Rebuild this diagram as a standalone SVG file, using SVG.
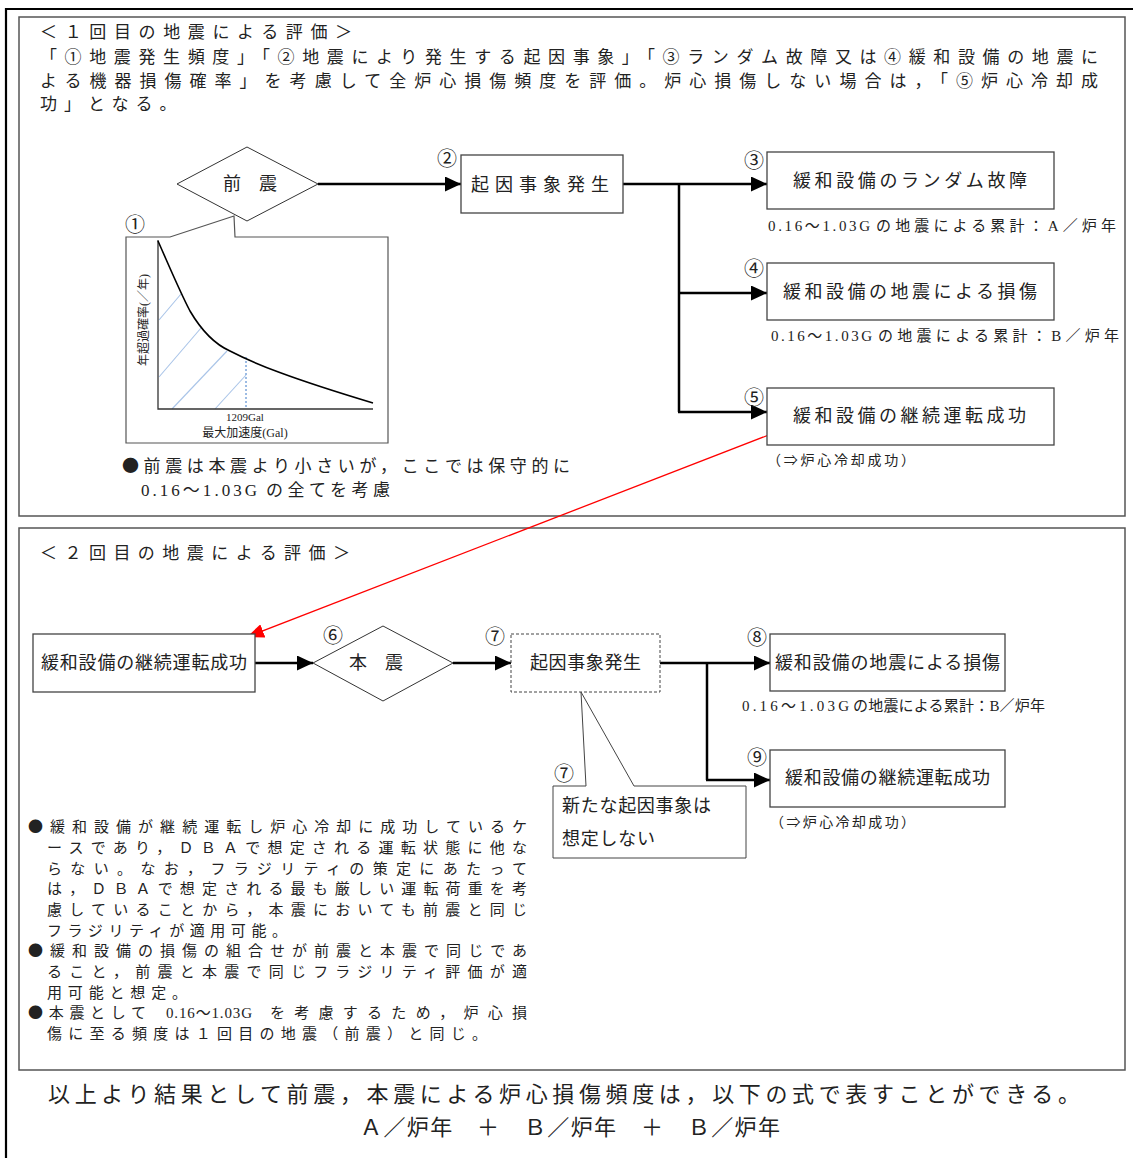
<svg xmlns="http://www.w3.org/2000/svg" width="1133" height="1158" viewBox="0 0 1133 1158">
<defs>
<style>
.t{font-family:"Liberation Serif","Noto Sans CJK JP",serif;fill:#222}
.j{font-family:"Noto Sans CJK JP",sans-serif}
.s17{font-size:17px}
.s18{font-size:18px}
.s15{font-size:15px}
.s14{font-size:14px}
.num{font-size:20px;font-family:"Noto Sans CJK JP",sans-serif;fill:#222}
.box{fill:#fff;stroke:#444;stroke-width:1.3}
.panel{fill:none;stroke:#555;stroke-width:1.5}
.conn{fill:none;stroke:#000;stroke-width:2.5}
.thin{fill:#fff;stroke:#333;stroke-width:1}
</style>
<marker id="ah" markerUnits="userSpaceOnUse" markerWidth="17" markerHeight="15" refX="16" refY="7.5" orient="auto"><path d="M0,0 L16,7.5 L0,15 z" fill="#000"/></marker>
<marker id="rah" markerUnits="userSpaceOnUse" markerWidth="18" markerHeight="14" refX="17" refY="7" orient="auto"><path d="M0,0 L17,7 L0,14 z" fill="#f00"/></marker>
</defs>
<rect width="1133" height="1158" fill="#fff"/>
<path d="M6,1160 V9 H1140" fill="none" stroke="#000" stroke-width="2.2"/>
<rect class="panel" x="19" y="17" width="1106" height="499"/>
<rect class="panel" x="19" y="528" width="1106" height="542"/>

<g id="panel1-text">
<text class="t s17" x="40" y="38" textLength="312" lengthAdjust="spacing">＜１回目の地震による評価＞</text>
<text class="t s17" x="40" y="63" textLength="1058" lengthAdjust="spacing">「<tspan class="j">①</tspan>地震発生頻度」「<tspan class="j">②</tspan>地震により発生する起因事象」「<tspan class="j">③</tspan>ランダム故障又は<tspan class="j">④</tspan>緩和設備の地震に</text>
<text class="t s17" x="40" y="87" textLength="1058" lengthAdjust="spacing">よる機器損傷確率」を考慮して全炉心損傷頻度を評価。炉心損傷しない場合は，「<tspan class="j">⑤</tspan>炉心冷却成</text>
<text class="t s17" x="40" y="110" letter-spacing="7">功」となる。</text>
</g>

<g id="connectors">
<line class="conn" x1="318" y1="184" x2="461" y2="184" marker-end="url(#ah)"/>
<polyline class="conn" points="623,184 767,184" marker-end="url(#ah)"/>
<line class="conn" x1="679" y1="184" x2="679" y2="412"/>
<line class="conn" x1="679" y1="293" x2="767" y2="293" marker-end="url(#ah)"/>
<line class="conn" x1="678" y1="412" x2="767" y2="412" marker-end="url(#ah)"/>
<line x1="779" y1="431" x2="247" y2="637" stroke="#f00" stroke-width="1.3" marker-end="url(#rah)"/>
<line class="conn" x1="255" y1="663" x2="313" y2="663" marker-end="url(#ah)"/>
<line class="conn" x1="453" y1="663" x2="511" y2="663" marker-end="url(#ah)"/>
<line class="conn" x1="660" y1="663" x2="770" y2="663" marker-end="url(#ah)"/>
<line class="conn" x1="707" y1="663" x2="707" y2="780"/>
<line class="conn" x1="706" y1="780" x2="770" y2="780" marker-end="url(#ah)"/>
</g>

<g id="n1-foreshock">
<polygon class="thin" points="177,184 247,147 318,184 247,221"/>
<text class="t s18" x="250" y="190" text-anchor="middle">前　震</text>
</g>
<g id="n1-graph">
<polygon fill="#fff" stroke="#555" stroke-width="1.2" points="126,237 170,237 234,216 235,237 388,237 388,443 126,443"/>
<text class="num" x="125" y="232">①</text>
<g stroke="#a9c4e8" stroke-width="1.1">
<line x1="159" y1="320" x2="181" y2="294"/>
<line x1="159" y1="377" x2="201" y2="328"/>
<line x1="172" y1="409" x2="227" y2="351"/>
<line x1="215" y1="409" x2="246" y2="375"/>
</g>
<line x1="246" y1="357" x2="246" y2="409" stroke="#3a78c8" stroke-width="1" stroke-dasharray="2,2"/>
<path d="M158,240 V409 H373" fill="none" stroke="#333" stroke-width="1.3"/>
<path d="M158,241 C170,268 180,292 190,311 C200,328 212,343 230,351 C255,364 290,378 373,403" fill="none" stroke="#000" stroke-width="1.6"/>
<text class="t" font-size="11" x="245" y="421" text-anchor="middle">1209Gal</text>
<text class="t" font-size="12" x="245" y="437" text-anchor="middle">最大加速度(Gal)</text>
<text class="t" font-size="12" transform="translate(148,320) rotate(-90)" text-anchor="middle">年超過確率(／年)</text>
<text class="t s17" x="122" y="472" textLength="448" lengthAdjust="spacing"><tspan class="j">●</tspan>前震は本震より小さいが，ここでは保守的に</text>
<text class="t s17" x="141" y="496" textLength="116" lengthAdjust="spacing">0.16～1.03G</text>
<text class="t s17" x="266" y="496" textLength="124" lengthAdjust="spacing">の全てを考慮</text>
</g>
<g id="n2-initiating">
<rect class="box" x="461" y="155" width="162" height="58"/>
<text class="num" x="437" y="166">②</text>
<text class="t s18" x="471" y="191" textLength="138" lengthAdjust="spacing">起因事象発生</text>
</g>
<g id="n3-random">
<rect class="box" x="767" y="152" width="287" height="57"/>
<text class="num" x="744" y="168">③</text>
<text class="t s18" x="793" y="187" textLength="234" lengthAdjust="spacing">緩和設備のランダム故障</text>
<text class="t s15" x="768" y="231" textLength="102" lengthAdjust="spacing">0.16～1.03G</text>
<text class="t s15" x="876" y="231" textLength="240" lengthAdjust="spacing">の地震による累計：A／炉年</text>
</g>
<g id="n4-damage">
<rect class="box" x="767" y="263" width="287" height="57"/>
<text class="num" x="744" y="276">④</text>
<text class="t s18" x="783" y="298" textLength="254" lengthAdjust="spacing">緩和設備の地震による損傷</text>
<text class="t s15" x="771" y="341" textLength="101" lengthAdjust="spacing">0.16～1.03G</text>
<text class="t s15" x="878" y="341" textLength="241" lengthAdjust="spacing">の地震による累計：B／炉年</text>
</g>
<g id="n5-success">
<rect class="box" x="767" y="388" width="287" height="57"/>
<text class="num" x="744" y="405">⑤</text>
<text class="t s18" x="793" y="422" textLength="233" lengthAdjust="spacing">緩和設備の継続運転成功</text>
<text class="t s14" x="767" y="465" textLength="148" lengthAdjust="spacing">（⇒炉心冷却成功）</text>
</g>

<g id="panel2-text">
<text class="t s17" x="40" y="559" textLength="310" lengthAdjust="spacing">＜２回目の地震による評価＞</text>
</g>
<g id="m1-success">
<rect class="box" x="33" y="634" width="222" height="58"/>
<text class="t s18" x="41" y="669" textLength="206" lengthAdjust="spacing">緩和設備の継続運転成功</text>
</g>
<g id="m6-mainshock">
<polygon class="thin" points="313,663 383,626 453,663 383,701"/>
<text class="num" x="323" y="643">⑥</text>
<text class="t s18" x="376" y="669" text-anchor="middle">本　震</text>
</g>
<g id="m7-initiating">
<rect x="511" y="634" width="149" height="58" fill="#fff" stroke="#444" stroke-width="1" stroke-dasharray="3,2"/>
<text class="num" x="485" y="644">⑦</text>
<text class="t s18" x="530" y="669" textLength="111" lengthAdjust="spacing">起因事象発生</text>
</g>
<g id="m8-damage">
<rect class="box" x="770" y="634" width="235" height="57"/>
<text class="num" x="747" y="645">⑧</text>
<text class="t s18" x="775" y="669" textLength="225" lengthAdjust="spacing">緩和設備の地震による損傷</text>
<text class="t s15" x="742" y="711" textLength="107" lengthAdjust="spacing">0.16～1.03G</text>
<text class="t s15" x="853" y="711" textLength="192" lengthAdjust="spacing">の地震による累計：B／炉年</text>
</g>
<g id="m9-success">
<rect class="box" x="770" y="750" width="235" height="57"/>
<text class="num" x="747" y="765">⑨</text>
<text class="t s18" x="785" y="784" textLength="205" lengthAdjust="spacing">緩和設備の継続運転成功</text>
<text class="t s14" x="770" y="827" textLength="145" lengthAdjust="spacing">（⇒炉心冷却成功）</text>
</g>
<g id="m7-note">
<polygon fill="#fff" stroke="#444" stroke-width="1" points="553,786 586,786 581,692 634,786 746,786 746,858 553,858"/>
<text class="num" x="554" y="781">⑦</text>
<text class="t s18" x="562" y="812" textLength="149" lengthAdjust="spacing">新たな起因事象は</text>
<text class="t s18" x="562" y="845" textLength="93" lengthAdjust="spacing">想定しない</text>
</g>
<g id="panel2-notes">
<text class="t s15" x="28" y="832" textLength="499" lengthAdjust="spacing"><tspan class="j">●</tspan>緩和設備が継続運転し炉心冷却に成功しているケ</text>
<text class="t s15" x="47" y="853" textLength="480" lengthAdjust="spacing">ースであり，ＤＢＡで想定される運転状態に他な</text>
<text class="t s15" x="47" y="874" textLength="480" lengthAdjust="spacing">らない。なお，フラジリティの策定にあたって</text>
<text class="t s15" x="47" y="894" textLength="480" lengthAdjust="spacing">は，ＤＢＡで想定される最も厳しい運転荷重を考</text>
<text class="t s15" x="47" y="915" textLength="480" lengthAdjust="spacing">慮していることから，本震においても前震と同じ</text>
<text class="t s15" x="47" y="936" textLength="240" lengthAdjust="spacing">フラジリティが適用可能。</text>
<text class="t s15" x="28" y="956" textLength="499" lengthAdjust="spacing"><tspan class="j">●</tspan>緩和設備の損傷の組合せが前震と本震で同じであ</text>
<text class="t s15" x="47" y="977" textLength="480" lengthAdjust="spacing">ること，前震と本震で同じフラジリティ評価が適</text>
<text class="t s15" x="47" y="998" textLength="140" lengthAdjust="spacing">用可能と想定。</text>
<text class="t s15" x="28" y="1018" textLength="118" lengthAdjust="spacing"><tspan class="j">●</tspan>本震として</text>
<text class="t s15" x="166" y="1018" textLength="86" lengthAdjust="spacing">0.16～1.03G</text>
<text class="t s15" x="270" y="1018" textLength="257" lengthAdjust="spacing">を考慮するため，炉心損</text>
<text class="t s15" x="47" y="1039" textLength="440" lengthAdjust="spacing">傷に至る頻度は１回目の地震（前震）と同じ。</text>
</g>
<g id="summary">
<text class="t" font-size="22" x="48" y="1102" textLength="1032" lengthAdjust="spacing">以上より結果として前震，本震による炉心損傷頻度は，以下の式で表すことができる。</text>
<text class="t" font-size="22" x="360" y="1135" textLength="420" lengthAdjust="spacing">Ａ／炉年　＋　Ｂ／炉年　＋　Ｂ／炉年</text>
</g>
</svg>
